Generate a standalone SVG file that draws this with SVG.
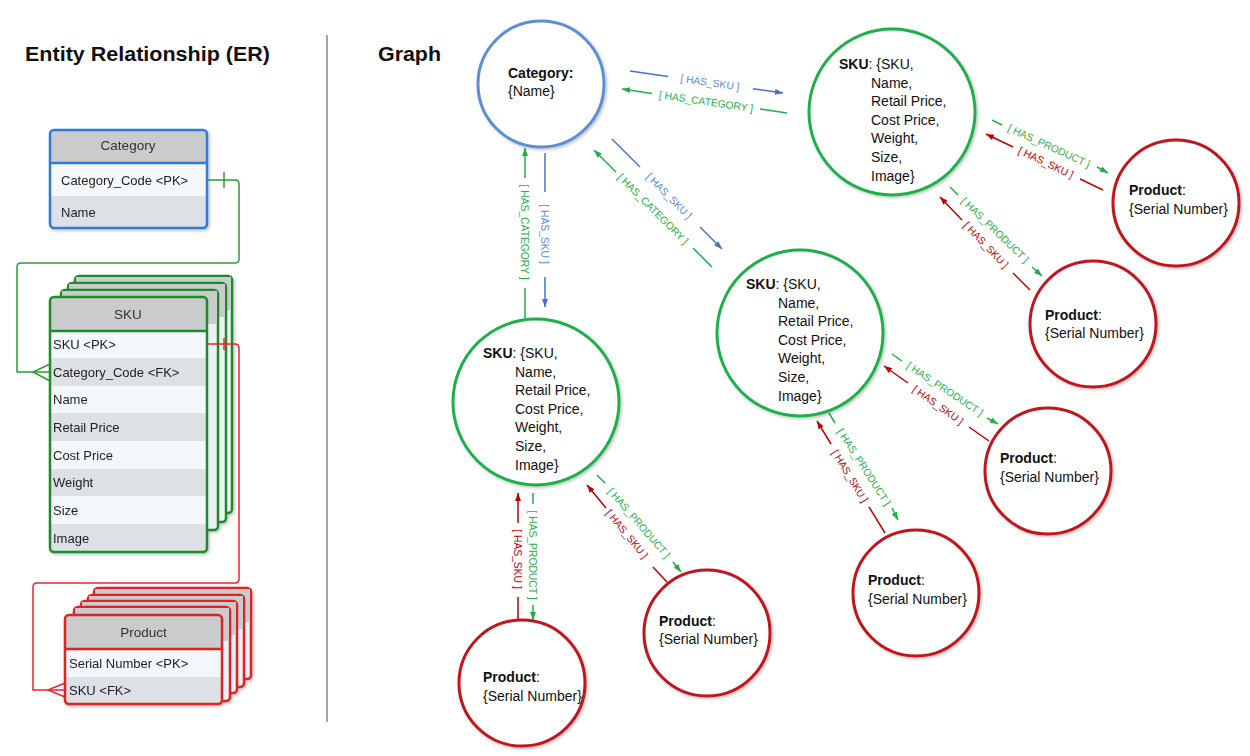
<svg xmlns="http://www.w3.org/2000/svg" width="1250" height="756" viewBox="0 0 1250 756">
<style>
.title{font-family:"Liberation Sans",Arial,sans-serif;font-size:21px;font-weight:bold;fill:#111}
.th{font-family:"Liberation Sans",Arial,sans-serif;font-size:13.5px;fill:#333;text-anchor:middle}
.tr{font-family:"Liberation Sans",Arial,sans-serif;font-size:13px;fill:#222}
.nt{font-family:"Liberation Sans",Arial,sans-serif;font-size:14px;fill:#111}
.b{font-weight:bold}
.lbl{font-family:"Liberation Sans",Arial,sans-serif;font-size:10.3px;text-anchor:middle}
.lb{fill:#5b8ad6}.lg{fill:#1fae4b}.lr{fill:#c00000}
.e{fill:none;stroke-width:1.5}
.eb{stroke:#4472c4}.eg{stroke:#1fae4b}.er{stroke:#c00000}
.cb{fill:#fff;stroke:#5a8fd8;stroke-width:3}
.cg{fill:#fff;stroke:#1fb04c;stroke-width:3}
.cr{fill:#fff;stroke:#c0121a;stroke-width:3}
.hdr{fill:#c9cbcd}.r1{fill:#f5f8fb}.r2{fill:#dde1e5}
</style>
<defs>
<filter id="sh" x="-20%" y="-20%" width="140%" height="140%">
<feDropShadow dx="1.5" dy="1.5" stdDeviation="1.5" flood-color="#000" flood-opacity="0.25"/>
</filter>
<marker id="ab" markerUnits="userSpaceOnUse" markerWidth="8" markerHeight="6" refX="8" refY="3" orient="auto"><path d="M0,0 L8,3 L0,6 z" fill="#4472c4"/></marker>
<marker id="ag" markerUnits="userSpaceOnUse" markerWidth="8" markerHeight="6" refX="8" refY="3" orient="auto"><path d="M0,0 L8,3 L0,6 z" fill="#1fae4b"/></marker>
<marker id="ar" markerUnits="userSpaceOnUse" markerWidth="8" markerHeight="6" refX="8" refY="3" orient="auto"><path d="M0,0 L8,3 L0,6 z" fill="#c00000"/></marker>
<clipPath id="clc"><rect x="50" y="130" width="157" height="98" rx="4"/></clipPath>
<clipPath id="cls"><rect x="50" y="297" width="157" height="255" rx="4"/></clipPath>
<clipPath id="clp"><rect x="65" y="615" width="157" height="89" rx="4"/></clipPath>
</defs>
<rect width="1250" height="756" fill="#fff"/>

<text class="title" x="25" y="61" textLength="245" lengthAdjust="spacingAndGlyphs">Entity Relationship (ER)</text>
<text class="title" x="378" y="61" textLength="63" lengthAdjust="spacingAndGlyphs">Graph</text>
<line x1="327" y1="35" x2="327" y2="722" stroke="#a6a6a6" stroke-width="2"/>

<g id="er-category" filter="url(#sh)">
<g clip-path="url(#clc)">
<rect x="50" y="130" width="157" height="33" class="hdr"/>
<rect x="50" y="163" width="157" height="33" class="r1"/>
<rect x="50" y="196" width="157" height="32" class="r2"/>
</g>
<line x1="50" y1="163" x2="207" y2="163" stroke="#2e7be0" stroke-width="2.5"/>
<rect x="50" y="130" width="157" height="98" rx="4" fill="none" stroke="#2e7be0" stroke-width="2.5"/>
<text class="th" x="128" y="150">Category</text>
<text class="tr" x="61" y="185">Category_Code &lt;PK&gt;</text>
<text class="tr" x="61" y="217">Name</text>
</g>

<g id="er-sku" filter="url(#sh)">
<rect x="75" y="276" width="157" height="237" rx="4" fill="#eef1f3" stroke="#1f8c2b" stroke-width="2.5"/>
<rect x="76" y="277" width="155" height="33" class="hdr"/>
<rect x="68" y="283" width="158" height="239" rx="4" fill="#eef1f3" stroke="#1f8c2b" stroke-width="2.5"/>
<rect x="69" y="284" width="156" height="33" class="hdr"/>
<rect x="61" y="290" width="157" height="240" rx="4" fill="#eef1f3" stroke="#1f8c2b" stroke-width="2.5"/>
<rect x="62" y="291" width="155" height="33" class="hdr"/>
<g clip-path="url(#cls)">
<rect x="50" y="297" width="157" height="34" class="hdr"/>
<rect x="50" y="331" width="157" height="27" class="r1"/>
<rect x="50" y="358" width="157" height="28" class="r2"/>
<rect x="50" y="386" width="157" height="27" class="r1"/>
<rect x="50" y="413" width="157" height="28" class="r2"/>
<rect x="50" y="441" width="157" height="28" class="r1"/>
<rect x="50" y="469" width="157" height="27" class="r2"/>
<rect x="50" y="496" width="157" height="28" class="r1"/>
<rect x="50" y="524" width="157" height="28" class="r2"/>
</g>
<line x1="50" y1="331" x2="207" y2="331" stroke="#1f8c2b" stroke-width="2.5"/>
<rect x="50" y="297" width="157" height="255" rx="4" fill="none" stroke="#1f8c2b" stroke-width="2.5"/>
<text class="th" x="128" y="319">SKU</text>
<text class="tr" x="53" y="349">SKU &lt;PK&gt;</text>
<text class="tr" x="53" y="376.5">Category_Code &lt;FK&gt;</text>
<text class="tr" x="53" y="404">Name</text>
<text class="tr" x="53" y="431.5">Retail Price</text>
<text class="tr" x="53" y="459.5">Cost Price</text>
<text class="tr" x="53" y="487">Weight</text>
<text class="tr" x="53" y="514.5">Size</text>
<text class="tr" x="53" y="542.5">Image</text>
</g>

<g id="er-product" filter="url(#sh)">
<rect x="94" y="588" width="157" height="91" rx="4" fill="#eef1f3" stroke="#e02020" stroke-width="2.5"/>
<rect x="95" y="589" width="155" height="33" class="hdr"/>
<rect x="88" y="595" width="156" height="92" rx="4" fill="#eef1f3" stroke="#e02020" stroke-width="2.5"/>
<rect x="89" y="596" width="154" height="33" class="hdr"/>
<rect x="81" y="601" width="156" height="92" rx="4" fill="#eef1f3" stroke="#e02020" stroke-width="2.5"/>
<rect x="82" y="602" width="154" height="33" class="hdr"/>
<rect x="74" y="607" width="156" height="94" rx="4" fill="#eef1f3" stroke="#e02020" stroke-width="2.5"/>
<rect x="75" y="608" width="154" height="33" class="hdr"/>
<g clip-path="url(#clp)">
<rect x="65" y="615" width="157" height="34" class="hdr"/>
<rect x="65" y="649" width="157" height="28" class="r1"/>
<rect x="65" y="677" width="157" height="27" class="r2"/>
</g>
<line x1="65" y1="649" x2="222" y2="649" stroke="#e02020" stroke-width="2.5"/>
<rect x="65" y="615" width="157" height="89" rx="4" fill="none" stroke="#e02020" stroke-width="2.5"/>
<text class="th" x="143.5" y="637">Product</text>
<text class="tr" x="69" y="667.5">Serial Number &lt;PK&gt;</text>
<text class="tr" x="69" y="695">SKU &lt;FK&gt;</text>
</g>

<g id="er-connectors" fill="none" stroke-width="1.5">
<path d="M207,180 H235 Q239,180 239,184 V259 Q239,263 235,263 H21 Q17,263 17,267 V372 H50" stroke="#2e9a3a"/>
<line x1="224" y1="172" x2="224" y2="188" stroke="#2e9a3a"/>
<path d="M50,364 L33,372 L50,381" stroke="#2e9a3a"/>
<path d="M207,344 H235 Q239,344 239,348 V579 Q239,583 235,583 H37 Q33,583 33,587 V690 H65" stroke="#e8262b"/>
<line x1="224" y1="338" x2="224" y2="350" stroke="#e8262b"/>
<path d="M65,683 L48,690 L65,697" stroke="#e8262b"/>
</g>

<g id="connectors">
<line class="e eb" x1="630" y1="71" x2="668" y2="76.5"/><line class="e eb" x1="753" y1="88.8" x2="783" y2="93" marker-end="url(#ab)"/>
<text class="lbl lb" transform="translate(710,82.5) rotate(8.2)" y="3.6">[ HAS_SKU ]</text>
<line class="e eg" x1="787" y1="113" x2="760" y2="109"/><line class="e eg" x1="652" y1="93.4" x2="622" y2="89" marker-end="url(#ag)"/>
<text class="lbl lg" transform="translate(706,101.5) rotate(8.3)" y="3.6">[ HAS_CATEGORY ]</text>

<line class="e eb" x1="612" y1="139" x2="640" y2="167"/><line class="e eb" x1="700" y1="227" x2="722" y2="249" marker-end="url(#ab)"/>
<text class="lbl lb" transform="translate(669,196) rotate(45)" y="3.6">[ HAS_SKU ]</text>
<line class="e eg" x1="712" y1="267" x2="693" y2="248"/><line class="e eg" x1="616" y1="172" x2="594" y2="150" marker-end="url(#ag)"/>
<text class="lbl lg" transform="translate(653,209) rotate(45)" y="3.6">[ HAS_CATEGORY ]</text>

<line class="e eb" x1="545" y1="153" x2="545" y2="192"/><line class="e eb" x1="545" y1="277" x2="545" y2="307" marker-end="url(#ab)"/>
<text class="lbl lb" transform="translate(545,234) rotate(90)" y="3.6">[ HAS_SKU ]</text>
<line class="e eg" x1="525" y1="318" x2="525" y2="288"/><line class="e eg" x1="525" y1="178" x2="525" y2="148" marker-end="url(#ag)"/>
<text class="lbl lg" transform="translate(525,232) rotate(90)" y="3.6">[ HAS_CATEGORY ]</text>

<line class="e eg" x1="992" y1="120" x2="1002" y2="125"/><line class="e eg" x1="1097" y1="167" x2="1108" y2="173" marker-end="url(#ag)"/>
<text class="lbl lg" transform="translate(1049,146) rotate(24.6)" y="3.6">[ HAS_PRODUCT ]</text>
<line class="e er" x1="1103" y1="190" x2="1080" y2="179"/><line class="e er" x1="1013" y1="147" x2="986" y2="134" marker-end="url(#ar)"/>
<text class="lbl lr" transform="translate(1046,162.5) rotate(25.5)" y="3.6">[ HAS_SKU ]</text>

<line class="e eg" x1="950" y1="187" x2="958" y2="195"/><line class="e eg" x1="1032" y1="267" x2="1042" y2="276" marker-end="url(#ag)"/>
<text class="lbl lg" transform="translate(995,230) rotate(44)" y="3.6">[ HAS_PRODUCT ]</text>
<line class="e er" x1="1030" y1="290" x2="1013" y2="273"/><line class="e er" x1="962" y1="220" x2="940" y2="197" marker-end="url(#ar)"/>
<text class="lbl lr" transform="translate(986,245) rotate(46)" y="3.6">[ HAS_SKU ]</text>

<line class="e eg" x1="892" y1="354" x2="902" y2="361"/><line class="e eg" x1="987" y1="418" x2="998" y2="424" marker-end="url(#ag)"/>
<text class="lbl lg" transform="translate(945,389) rotate(33.4)" y="3.6">[ HAS_PRODUCT ]</text>
<line class="e er" x1="989" y1="441" x2="969" y2="427"/><line class="e er" x1="908" y1="383" x2="884" y2="366" marker-end="url(#ar)"/>
<text class="lbl lr" transform="translate(938,405) rotate(35.5)" y="3.6">[ HAS_SKU ]</text>

<line class="e eg" x1="829" y1="413" x2="835" y2="423"/><line class="e eg" x1="892" y1="508" x2="898" y2="520" marker-end="url(#ag)"/>
<text class="lbl lg" transform="translate(864,467) rotate(57)" y="3.6">[ HAS_PRODUCT ]</text>
<line class="e er" x1="885" y1="533" x2="869" y2="507"/><line class="e er" x1="831" y1="444" x2="817" y2="421" marker-end="url(#ar)"/>
<text class="lbl lr" transform="translate(850,476) rotate(58.7)" y="3.6">[ HAS_SKU ]</text>

<line class="e er" x1="518" y1="622" x2="518" y2="597"/><line class="e er" x1="518" y1="523" x2="518" y2="493" marker-end="url(#ar)"/>
<text class="lbl lr" transform="translate(518,559) rotate(90)" y="3.6">[ HAS_SKU ]</text>
<line class="e eg" x1="533" y1="493" x2="533" y2="504"/><line class="e eg" x1="533" y1="605" x2="533" y2="620" marker-end="url(#ag)"/>
<text class="lbl lg" transform="translate(533,555) rotate(90)" y="3.6">[ HAS_PRODUCT ]</text>

<line class="e eg" x1="597" y1="475" x2="605" y2="483"/><line class="e eg" x1="673" y1="562" x2="681" y2="572" marker-end="url(#ag)"/>
<text class="lbl lg" transform="translate(639,523) rotate(49)" y="3.6">[ HAS_PRODUCT ]</text>
<line class="e er" x1="667" y1="582" x2="653" y2="567"/><line class="e er" x1="606" y1="508" x2="587" y2="485" marker-end="url(#ar)"/>
<text class="lbl lr" transform="translate(627,534) rotate(50.5)" y="3.6">[ HAS_SKU ]</text>
</g>

<g id="node-category">
<circle cx="541" cy="84" r="63" class="cb" filter="url(#sh)"/>
<text class="nt" x="508" y="78"><tspan class="b">Category</tspan><tspan class="b">:</tspan></text>
<text class="nt" x="508" y="96">{Name}</text>
</g>

<g id="node-sku-1">
<circle cx="892" cy="112" r="83" class="cg" filter="url(#sh)"/>
<text class="nt" x="839" y="69"><tspan class="b">SKU</tspan>: {SKU,</text>
<text class="nt" x="871" y="87.6">Name,</text>
<text class="nt" x="871" y="106.2">Retail Price,</text>
<text class="nt" x="871" y="124.8">Cost Price,</text>
<text class="nt" x="871" y="143.4">Weight,</text>
<text class="nt" x="871" y="162">Size,</text>
<text class="nt" x="871" y="180.6">Image}</text>
</g>

<g id="node-sku-2">
<circle cx="800" cy="333" r="83" class="cg" filter="url(#sh)"/>
<text class="nt" x="746" y="289"><tspan class="b">SKU</tspan>: {SKU,</text>
<text class="nt" x="778" y="307.6">Name,</text>
<text class="nt" x="778" y="326.2">Retail Price,</text>
<text class="nt" x="778" y="344.8">Cost Price,</text>
<text class="nt" x="778" y="363.4">Weight,</text>
<text class="nt" x="778" y="382">Size,</text>
<text class="nt" x="778" y="400.6">Image}</text>
</g>

<g id="node-sku-3">
<circle cx="536" cy="402" r="83" class="cg" filter="url(#sh)"/>
<text class="nt" x="483" y="358"><tspan class="b">SKU</tspan>: {SKU,</text>
<text class="nt" x="515" y="376.6">Name,</text>
<text class="nt" x="515" y="395.2">Retail Price,</text>
<text class="nt" x="515" y="413.8">Cost Price,</text>
<text class="nt" x="515" y="432.4">Weight,</text>
<text class="nt" x="515" y="451">Size,</text>
<text class="nt" x="515" y="469.6">Image}</text>
</g>

<g id="node-product-1">
<circle cx="1176" cy="203" r="63" class="cr" filter="url(#sh)"/>
<text class="nt" x="1129" y="195"><tspan class="b">Product</tspan>:</text>
<text class="nt" x="1129" y="214">{Serial Number}</text>
</g>
<g id="node-product-2">
<circle cx="1093" cy="324" r="63" class="cr" filter="url(#sh)"/>
<text class="nt" x="1045" y="320"><tspan class="b">Product</tspan>:</text>
<text class="nt" x="1045" y="338">{Serial Number}</text>
</g>
<g id="node-product-3">
<circle cx="1048" cy="471" r="63" class="cr" filter="url(#sh)"/>
<text class="nt" x="1000" y="463"><tspan class="b">Product</tspan>:</text>
<text class="nt" x="1000" y="482">{Serial Number}</text>
</g>
<g id="node-product-4">
<circle cx="916" cy="593" r="63" class="cr" filter="url(#sh)"/>
<text class="nt" x="868" y="585"><tspan class="b">Product</tspan>:</text>
<text class="nt" x="868" y="604">{Serial Number}</text>
</g>
<g id="node-product-5">
<circle cx="707" cy="633" r="63" class="cr" filter="url(#sh)"/>
<text class="nt" x="659" y="626"><tspan class="b">Product</tspan>:</text>
<text class="nt" x="659" y="644">{Serial Number}</text>
</g>
<g id="node-product-6">
<circle cx="522" cy="683" r="63" class="cr" filter="url(#sh)"/>
<text class="nt" x="483" y="682"><tspan class="b">Product</tspan>:</text>
<text class="nt" x="483" y="701">{Serial Number}</text>
</g>
</svg>
